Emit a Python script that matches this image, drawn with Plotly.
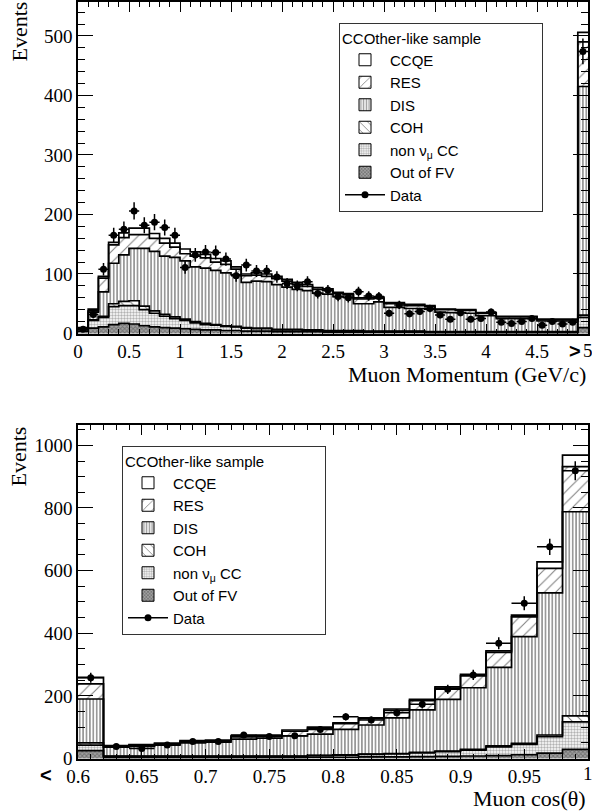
import numpy as np
import plotly.graph_objects as go

# ---- momentum panel: 0.1 GeV/c bins, last bin is the overflow (>5)
p_edges = np.round(np.arange(0, 5.01, 0.1), 2)
p_outfv = [4, 9, 11, 15, 17, 16, 13, 11, 10, 9, 8, 7, 6, 6, 5, 5, 4, 4, 4, 3,
           3, 3, 3, 3, 2, 2, 2, 2, 2, 2, 2, 2, 2, 2, 1, 1, 1, 1, 1, 1,
           1, 1, 1, 1, 1, 1, 1, 1, 1, 10]
p_nonnumu = [3, 13, 16, 30, 30, 31, 27, 23, 19, 16, 14, 11, 9, 8, 7, 6, 5, 4, 4, 3,
             3, 3, 2, 2, 2, 2, 2, 2, 1, 1, 1, 1, 1, 1, 1, 1, 1, 1, 1, 1,
             1, 1, 1, 1, 1, 1, 1, 1, 1, 17]
p_coh = [0, 1, 2, 5, 7, 8, 6, 4, 3, 3, 2, 2, 2, 1, 1, 1, 1, 1, 1, 1,
         1, 1, 1, 1, 1, 1, 1, 1, 1, 1, 1, 1, 1, 1, 1, 1, 1, 1, 1, 1,
         1, 1, 1, 1, 1, 1, 1, 1, 1, 4]
p_dis = [1, 13, 41, 68, 78, 88, 97, 100, 98, 100, 98, 92, 93, 91, 89, 87, 76, 79, 78, 75,
         71, 67, 66, 62, 61, 57, 56, 45, 46, 49, 40, 40, 38, 38, 38, 33, 32, 32, 31, 27,
         27, 22, 22, 22, 22, 18, 18, 18, 18, 384]
p_res = [1, 2, 23, 31, 29, 23, 23, 22, 22, 17, 12, 18, 17, 14, 14, 9, 11, 10, 9, 10,
         10, 9, 7, 6, 6, 5, 4, 8, 8, 6, 6, 6, 5, 5, 4, 4, 5, 4, 5, 4,
         4, 3, 3, 3, 3, 2, 2, 2, 2, 75]
p_ccqe = [1, 3, 3, 4, 8, 11, 11, 8, 8, 7, 8, 7, 6, 6, 6, 4, 3, 4, 4, 4,
          3, 3, 3, 3, 3, 2, 2, 2, 2, 2, 2, 2, 2, 2, 2, 1, 1, 1, 1, 1,
          1, 1, 1, 1, 1, 1, 1, 1, 1, 16]
p_data = [7, 32, 108, 165, 175, 206, 182, 187, 178, 165, 111, 132, 137, 136, 125, 97, 115, 105, 105, 95,
          84, 80, 87, 67, 73, 62, 60, 70, 63, 62, 34, 48, 33, 37, 42, 31, 24, 35, 24, 25,
          36, 19, 17, 20, 25, 14, 20, 16, 19, 474]
p_ticks = [0, 0.5, 1, 1.5, 2, 2.5, 3, 3.5, 4, 4.5]
p_ticktext = ['0', '0.5', '1', '1.5', '2', '2.5', '3', '3.5', '4', '4.5']

# ---- cos(theta) panel: 0.02 bins, first bin is the underflow (<0.6)
c_edges = np.round(np.arange(0.6, 1.001, 0.02), 3)
c_outfv = [25, 3, 3, 3, 3, 3, 3, 3, 3, 4, 4, 5, 5, 6, 7, 8, 9, 12, 17, 29]
c_nonnumu = [18, 4, 4, 4, 4, 4, 4, 4, 4, 5, 7, 8, 10, 12, 15, 19, 28, 33, 53, 88]
c_coh = [7, 1, 1, 1, 1, 1, 1, 1, 1, 1, 1, 1, 1, 2, 2, 2, 3, 3, 5, 19]
c_dis = [140, 28, 31, 35, 42, 44, 54, 57, 64, 68, 81, 93, 114, 135, 165, 197, 251, 341, 454, 652]
c_res = [48, 3, 3, 3, 4, 4, 7, 7, 15, 18, 18, 20, 24, 30, 36, 38, 48, 63, 78, 144]
c_ccqe = [21, 2, 2, 3, 3, 3, 4, 3, 4, 4, 3, 3, 4, 4, 4, 5, 5, 6, 21, 37]
c_data = [258, 38, 32, 43, 54, 54, 75, 70, 73, 93, 133, 123, 146, 173, 221, 267, 368, 496, 676, 919]
c_ticks = [0.6, 0.65, 0.7, 0.75, 0.8, 0.85, 0.9, 0.95]
c_ticktext = ['0.6', '0.65', '0.7', '0.75', '0.8', '0.85', '0.9', '0.95']

# fill styles, bottom of the stack first
styles = [
    ('Out of FV', dict(shape='x', fgcolor='#444', bgcolor='#a0a0a0', size=3, solidity=0.5)),
    ('non \u03bd<sub>\u03bc</sub> CC', dict(shape='.', fgcolor='#666', bgcolor='white', size=3, solidity=0.5)),
    ('COH', dict(shape='\\', fgcolor='black', bgcolor='white', size=7, solidity=0.15)),
    ('DIS', dict(shape='|', fgcolor='#333', bgcolor='white', size=3.4, solidity=0.5)),
    ('RES', dict(shape='/', fgcolor='black', bgcolor='white', size=8, solidity=0.13)),
    ('CCQE', dict(shape='', fgcolor='black', bgcolor='white', size=8, solidity=0.2)),
]
ranks = [6, 5, 4, 3, 2, 1]

fig = go.Figure()


def add_panel(edges, comps, data, xa, ya, leg):
    edges = np.asarray(edges)
    centers = (edges[:-1] + edges[1:]) / 2
    width = edges[1] - edges[0]
    cum = np.zeros(len(centers))
    tops = []
    for (name, pat), vals, rank in zip(styles, comps, ranks):
        fig.add_trace(go.Bar(x=centers, y=vals, width=width, xaxis=xa, yaxis=ya,
                             marker=dict(color='white', pattern=pat, line=dict(width=0)),
                             showlegend=False, hoverinfo='skip'))
        # legend swatch only
        fig.add_trace(go.Bar(x=[None], y=[None], xaxis=xa, yaxis=ya, name=name,
                             marker=dict(color='white', pattern=pat, line=dict(width=1, color='black')),
                             legend=leg, legendrank=rank))
        cum = cum + np.asarray(vals)
        tops.append(cum.copy())
    # ROOT style outlines of each cumulative histogram
    for t in tops:
        fig.add_trace(go.Scatter(x=edges, y=np.append(t, t[-1]), mode='lines', line_shape='hv',
                                 line=dict(color='black', width=1.7), xaxis=xa, yaxis=ya,
                                 showlegend=False, hoverinfo='skip'))
    fig.add_trace(go.Scatter(x=centers, y=data, mode='markers', xaxis=xa, yaxis=ya,
                             marker=dict(color='black', size=7),
                             error_y=dict(type='sqrt', color='black', thickness=1.5, width=0),
                             error_x=dict(type='constant', value=width / 2, color='black', thickness=1.5, width=0),
                             showlegend=False))
    fig.add_trace(go.Scatter(x=[None], y=[None], mode='lines+markers', name='Data', xaxis=xa, yaxis=ya,
                             line=dict(color='black', width=1.5), marker=dict(color='black', size=7),
                             legend=leg, legendrank=7))


add_panel(p_edges, [p_outfv, p_nonnumu, p_coh, p_dis, p_res, p_ccqe], p_data, 'x', 'y', 'legend')
add_panel(c_edges, [c_outfv, c_nonnumu, c_coh, c_dis, c_res, c_ccqe], c_data, 'x2', 'y2', 'legend2')

serif = 'Liberation Serif'
sans = 'Liberation Sans'
W, H = 592, 811
xdom = [78 / W, 588 / W]

axis_common = dict(showline=True, linecolor='black', linewidth=1.5, mirror='ticks', ticks='inside',
                   tickcolor='black', showgrid=False, zeroline=False, automargin=False,
                   tickfont=dict(family=serif, size=19, color='black'))

legend_common = dict(bgcolor='white', bordercolor='#333', borderwidth=1, traceorder='normal',
                     font=dict(family=sans, size=15, color='black'), itemwidth=40,
                     title=dict(text='CCOther-like sample' + '\u00a0' * 14,
                                font=dict(family=sans, size=15, color='black')),
                     xanchor='left', yanchor='top', tracegroupgap=0)

fig.update_layout(
    width=W, height=H,
    margin=dict(l=0, r=0, t=0, b=0),
    paper_bgcolor='white', plot_bgcolor='white',
    barmode='stack', bargap=0,
    xaxis=dict(domain=xdom, anchor='y', range=[0, 5], tickmode='array', tickvals=p_ticks,
               ticktext=p_ticktext, ticklen=10, minor=dict(dtick=0.1, ticklen=5, ticks='inside', tickcolor='black'),
               **axis_common),
    yaxis=dict(domain=[1 - 333.5 / H, 1 - 2 / H], anchor='x', range=[0, 557], dtick=100, ticklen=15,
               minor=dict(dtick=20, ticklen=7, ticks='inside', tickcolor='black'), **axis_common),
    xaxis2=dict(domain=xdom, anchor='y2', range=[0.6, 1.0], tickmode='array', tickvals=c_ticks,
                ticktext=c_ticktext, ticklen=10, minor=dict(dtick=0.01, ticklen=5, ticks='inside', tickcolor='black'),
                **axis_common),
    yaxis2=dict(domain=[1 - 758.5 / H, 1 - 425 / H], anchor='x2', range=[0, 1065], dtick=200, ticklen=15,
                minor=dict(dtick=50, ticklen=7, ticks='inside', tickcolor='black'), **axis_common),
    legend=dict(x=339 / W, y=1 - 23 / H, **legend_common),
    legend2=dict(x=122 / W, y=1 - 446 / H, **legend_common),
    showlegend=True,
)

title_font = dict(family=serif, size=22, color='black')
tick_font = dict(family=serif, size=19, color='black')
fig.add_annotation(text='Events', textangle=-90, xref='paper', yref='paper', x=18.5 / W, y=1,
                   xanchor='center', yanchor='top', showarrow=False, font=title_font)
fig.add_annotation(text='Events', textangle=-90, xref='paper', yref='paper', x=18.5 / W, y=1 - 425 / H,
                   xanchor='center', yanchor='top', showarrow=False, font=title_font)
fig.add_annotation(text='Muon Momentum (GeV/c)', xref='paper', yref='paper', x=588 / W, y=1 - 374 / H,
                   xanchor='right', yanchor='middle', showarrow=False, font=title_font)
fig.add_annotation(text='Muon cos(\u03b8)', xref='paper', yref='paper', x=588 / W, y=1 - 798 / H,
                   xanchor='right', yanchor='middle', showarrow=False, font=title_font)
# last tick labels sit on the right frame edge
fig.add_annotation(text='5', xref='x', yref='paper', x=5, y=1 - 350 / H, xanchor='center',
                   yanchor='middle', showarrow=False, font=tick_font)
fig.add_annotation(text='1', xref='x2', yref='paper', x=1.0, y=1 - 773 / H, xanchor='center',
                   yanchor='middle', showarrow=False, font=tick_font)
# overflow / underflow markers next to the edge tick labels
fig.add_annotation(text='<b>&gt;</b>', xref='paper', yref='paper', x=575 / W, y=1 - 351 / H,
                   xanchor='center', yanchor='middle', showarrow=False,
                   font=dict(family=sans, size=20, color='black'))
fig.add_annotation(text='<b>&lt;</b>', xref='paper', yref='paper', x=46 / W, y=1 - 775 / H,
                   xanchor='center', yanchor='middle', showarrow=False,
                   font=dict(family=sans, size=20, color='black'))

# the page is exactly the figure: drop the default body margin, no toolbar
fig.write_html("out.html", config={'displayModeBar': False},
               post_script="document.body.style.margin='0';document.body.style.overflow='hidden';")
